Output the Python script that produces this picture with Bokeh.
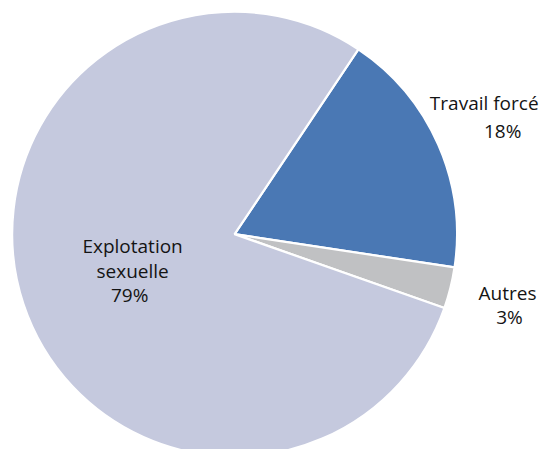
import math
from bokeh.plotting import figure
from bokeh.models import Range1d, ColumnDataSource
from bokeh.core.properties import value
from bokeh.embed import file_html
from bokeh.resources import INLINE

# Data (clockwise from the top-right boundary)
categories = ["Travail forcé", "Autres", "Explotation sexuelle"]
shares = [18, 3, 79]
colors = ["#4a78b4", "#c0c1c3", "#c5c9de"]

# label lines (text) per category
label_lines = [["Travail forcé", "18%"], ["Autres", "3%"], ["Explotation", "sexuelle", "79%"]]

# layout: data space equals the 558x465 reference frame (y up)
W, H = 542, 449
cx, cy, r = 241, 223, 229
start_deg = 56.2
label_pos = [
    [(498, 359), (517, 330)],
    [(522, 162), (524, 137)],
    [(136, 211), (136, 185), (133, 160)],
]

total = float(sum(shares))
starts, ends = [], []
acc = 0.0
a0 = math.radians(start_deg)
for s in shares:
    starts.append(a0 - 2 * math.pi * acc / total)
    acc += s
    ends.append(a0 - 2 * math.pi * acc / total)

src = ColumnDataSource(dict(cat=categories, share=shares, color=colors,
                            start=starts, end=ends,
                            x=[cx] * len(shares), y=[cy] * len(shares)))

p = figure(width=W, height=H, output_backend="svg", toolbar_location=None,
           x_range=Range1d(0, 558), y_range=Range1d(0, 465),
           min_border=0, x_axis_type=None, y_axis_type=None)
p.grid.visible = False
p.outline_line_color = None
p.background_fill_color = "white"
p.border_fill_color = "white"

p.wedge(x="x", y="y", radius=r, start_angle="start", end_angle="end",
        direction="clock", fill_color="color", line_color="white",
        line_width=2.2, source=src)

tx, ty, tt = [], [], []
for lines, poss in zip(label_lines, label_pos):
    for t, (x, y) in zip(lines, poss):
        tx.append(x); ty.append(y); tt.append(t)

p.text(x=tx, y=ty, text=tt, text_align="center", text_baseline="alphabetic",
       text_font=value("Open Sans"), text_font_size="19px", text_color="#141414")

open("out.html", "w").write(file_html(p, INLINE))
